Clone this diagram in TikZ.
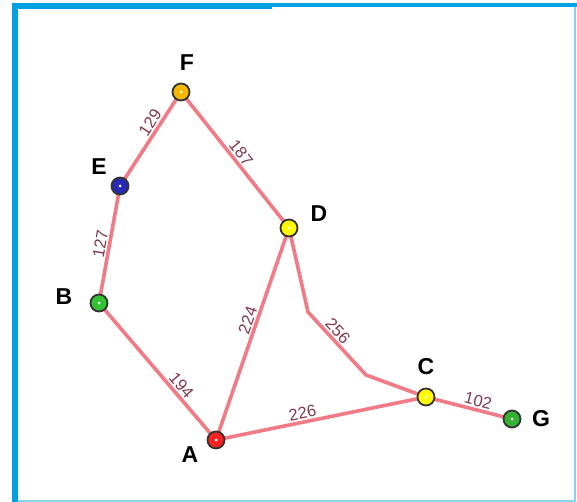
\documentclass[tikz,border=0pt]{standalone}
\usepackage{fontspec}
\setmainfont{Liberation Sans}
\begin{document}
\begin{tikzpicture}[x=1pt,y=-1pt,
  vert/.style={circle,draw=black!80,line width=1.8pt,minimum size=17pt,inner sep=0pt,
     path picture={\fill[white] (path picture bounding box.center) circle (1.5pt);}},
  vname/.style={font=\fontsize{23}{23}\selectfont\bfseries,text=black},
  road/.style={draw=roadc,line width=3.6pt,line join=round},
  wt/.style={font=\fontsize{16.5}{16.5}\selectfont,text=wtc,sloped,above,inner sep=1.5pt}]
\definecolor{roadc}{HTML}{F27A84}
\definecolor{wtc}{HTML}{7E3A4C}
\definecolor{frameb}{HTML}{00A2E4}
\definecolor{framel}{HTML}{86D4F2}
\useasboundingbox (0,0) rectangle (577,502);
% frame
\fill[frameb] (12,3) rectangle (577,7);
\fill[frameb] (12,3) rectangle (272,9);
\fill[frameb] (12,3) rectangle (18,502);
\fill[framel] (574,7) rectangle (576,502);
\fill[framel] (18,499.5) rectangle (576,501.5);
% coordinates
\coordinate (pF) at (181,92);
\coordinate (pE) at (120,186);
\coordinate (pB) at (99,303);
\coordinate (pA) at (216,440);
\coordinate (pD) at (289,228);
\coordinate (pC) at (426,397);
\coordinate (pG) at (512,419);
\coordinate (k1) at (308,312);
\coordinate (k2) at (366,375);
% roads
\draw[road] (pE) -- node[wt,pos=0.62]{129} (pF);
\draw[road] (pF) -- node[wt,pos=0.49]{187} (pD);
\draw[road] (pB) -- node[wt,pos=0.49]{127} (pE);
\draw[road] (pA) -- node[wt,pos=0.55]{224} (pD);
\draw[road] (pD) -- (k1) -- node[wt,pos=0.4]{256} (k2) -- (pC);
\draw[road] (pB) -- node[wt,pos=0.645]{194} (pA);
\draw[road] (pA) -- node[wt,pos=0.42]{226} (pC);
\draw[road] (pC) -- node[wt,pos=0.58]{102} (pG);
% vertices
\node[vert,fill={rgb,255:red,245;green,184;blue,0}] (F) at (pF) {};
\node[vert,fill={rgb,255:red,40;green,40;blue,180}] (E) at (pE) {};
\node[vert,fill={rgb,255:red,50;green,195;blue,50}] (B) at (pB) {};
\node[vert,fill={rgb,255:red,250;green,35;blue,35}] (A) at (pA) {};
\node[vert,fill={rgb,255:red,255;green,250;blue,0}] (D) at (pD) {};
\node[vert,fill={rgb,255:red,255;green,250;blue,0}] (C) at (pC) {};
\node[vert,fill={rgb,255:red,50;green,180;blue,50}] (G) at (pG) {};
% names
\node[vname] (lF) at (187,63) {F};
\node[vname] (lE) at (99,167) {E};
\node[vname] (lD) at (319,214) {D};
\node[vname] (lB) at (64,297) {B};
\node[vname] (lA) at (190,455) {A};
\node[vname] (lC) at (426,367) {C};
\node[vname] (lG) at (541,419) {G};
\end{tikzpicture}
\end{document}
